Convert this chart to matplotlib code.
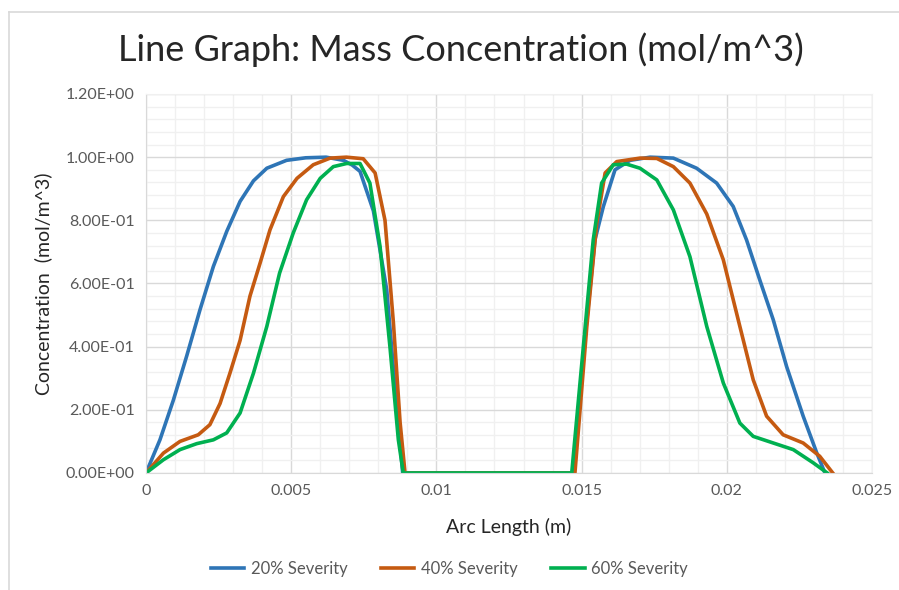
import matplotlib
matplotlib.use('Agg')
import matplotlib.pyplot as plt
from matplotlib.lines import Line2D
from matplotlib.ticker import MultipleLocator, FuncFormatter

plt.rcParams['font.family'] = ['Lato', 'DejaVu Sans']

# 20% severity
x20 = [0, 0.00048, 0.00094, 0.0014, 0.00186, 0.00232, 0.00278, 0.00324, 0.0037, 0.00416, 0.00484,
       0.0055, 0.0062, 0.0068, 0.0071, 0.00737, 0.00783, 0.00829, 0.00863, 0.00884, 0.0095, 0.0105,
       0.0115, 0.0125, 0.0135, 0.01471, 0.01511, 0.01546, 0.01575, 0.01615, 0.01667, 0.01736,
       0.01816, 0.01896, 0.01965, 0.02022, 0.02068, 0.02114, 0.0216, 0.02206, 0.02263, 0.0231,
       0.02338]
y20 = [0, 0.105, 0.23, 0.37, 0.517, 0.654, 0.765, 0.86, 0.925, 0.965, 0.99,
       0.998, 1.0, 0.99, 0.975, 0.955, 0.83, 0.58, 0.21, 0, 0, 0,
       0, 0, 0, 0, 0.42, 0.738, 0.844, 0.96, 0.99, 1.0,
       0.997, 0.965, 0.918, 0.844, 0.738, 0.61, 0.485, 0.337, 0.18, 0.063,
       0]

# 40% severity
x40 = [0, 0.0006, 0.00117, 0.0018, 0.0022, 0.00255, 0.00289, 0.00324, 0.00358, 0.00393, 0.00427,
       0.00473, 0.0052, 0.00576, 0.00634, 0.0069, 0.00748, 0.00789, 0.00823, 0.00852, 0.00875,
       0.00892, 0.0095, 0.0105, 0.0115, 0.0125, 0.0135, 0.01477, 0.01518, 0.01552, 0.01581,
       0.01621, 0.01701, 0.01759, 0.01816, 0.01873, 0.01931, 0.01988, 0.02045, 0.02091, 0.02137,
       0.02194, 0.02263, 0.0232, 0.02365]
y40 = [0, 0.063, 0.10, 0.121, 0.153, 0.22, 0.316, 0.42, 0.56, 0.665, 0.77,
       0.875, 0.933, 0.976, 0.997, 1.0, 0.995, 0.95, 0.80, 0.475, 0.16,
       0, 0, 0, 0, 0, 0, 0, 0.464, 0.79, 0.95,
       0.986, 0.997, 0.996, 0.97, 0.918, 0.82, 0.675, 0.464, 0.295, 0.18,
       0.121, 0.095, 0.053, 0]

# 60% severity
x60 = [0, 0.0006, 0.00117, 0.00175, 0.00232, 0.00278, 0.00324, 0.0037, 0.00416, 0.0046, 0.00507,
       0.00553, 0.006, 0.00645, 0.00691, 0.00737, 0.00771, 0.00806, 0.0084, 0.00869, 0.00886,
       0.0095, 0.0105, 0.0115, 0.0125, 0.0135, 0.01466, 0.01506, 0.0154, 0.01569, 0.01609,
       0.01655, 0.01701, 0.01759, 0.01816, 0.01873, 0.01931, 0.01988, 0.02045, 0.02091, 0.0216,
       0.02229, 0.02298, 0.02346]
y60 = [0, 0.042, 0.074, 0.093, 0.105, 0.127, 0.19, 0.316, 0.464, 0.633, 0.76,
       0.865, 0.933, 0.97, 0.98, 0.98, 0.918, 0.717, 0.40, 0.105, 0,
       0, 0, 0, 0, 0, 0, 0.40, 0.738, 0.918, 0.976,
       0.978, 0.965, 0.928, 0.833, 0.685, 0.464, 0.285, 0.158, 0.116, 0.095,
       0.074, 0.032, 0]

labels = ['20% Severity', '40% Severity', '60% Severity']
colors = ['#2E75B6', '#C55A11', '#00B050']

fig = plt.figure(figsize=(8.99, 5.9), dpi=100)
ax = fig.add_axes([146/899, 1-473/590, (872-146)/899, (473-94)/590])

ax.plot(x20, y20, color=colors[0], lw=2.6, label=labels[0], solid_joinstyle='round')
ax.plot(x40, y40, color=colors[1], lw=2.6, label=labels[1], solid_joinstyle='round')
ax.plot(x60, y60, color=colors[2], lw=2.6, label=labels[2], solid_joinstyle='round')

ax.set_xlim(0, 0.025)
ax.set_ylim(0, 1.2)
ax.xaxis.set_major_locator(MultipleLocator(0.005))
ax.xaxis.set_minor_locator(MultipleLocator(0.001))
ax.yaxis.set_major_locator(MultipleLocator(0.2))
ax.yaxis.set_minor_locator(MultipleLocator(0.04))
ax.xaxis.set_major_formatter(FuncFormatter(lambda v, p: '0' if v == 0 else ('%g' % round(v, 4))))
ax.yaxis.set_major_formatter(FuncFormatter(lambda v, p: '%.2E' % v))
ax.grid(which='major', color='#D9D9D9', lw=1.0)
ax.grid(which='minor', color='#F0F0F0', lw=1.0)
ax.set_axisbelow(True)
for s in ['top', 'right']:
    ax.spines[s].set_color('#F0F0F0')
for s in ['left', 'bottom']:
    ax.spines[s].set_color('#D9D9D9')
ax.tick_params(which='both', length=0, labelsize=11.5, colors='#595959', pad=8)

ax.set_xlabel('Arc Length (m)', fontsize=14, color='#262626', labelpad=14)
ax.set_ylabel('Concentration  (mol/m^3)', fontsize=14, color='#262626', labelpad=10)
fig.text(461/899, 1-50/590, 'Line Graph: Mass Concentration (mol/m^3)', fontsize=26,
         color='#262626', ha='center', va='center')

handles = [Line2D([], [], color=c, lw=2.6) for c in colors]
fig.legend(handles, labels, loc='center', bbox_to_anchor=(0.5, 1-569/590), ncol=3,
           frameon=False, fontsize=12, labelcolor='#595959', handlelength=2.0,
           columnspacing=2.0, handletextpad=0.4)

# chart frame (cropped on right and bottom)
fig.add_artist(Line2D([8.5/899, 8.5/899], [0, 1-12/590], color='#D9D9D9', lw=1.2))
fig.add_artist(Line2D([8.5/899, 1], [1-12/590, 1-12/590], color='#D9D9D9', lw=1.2))

fig.savefig('out.png', dpi=100)
